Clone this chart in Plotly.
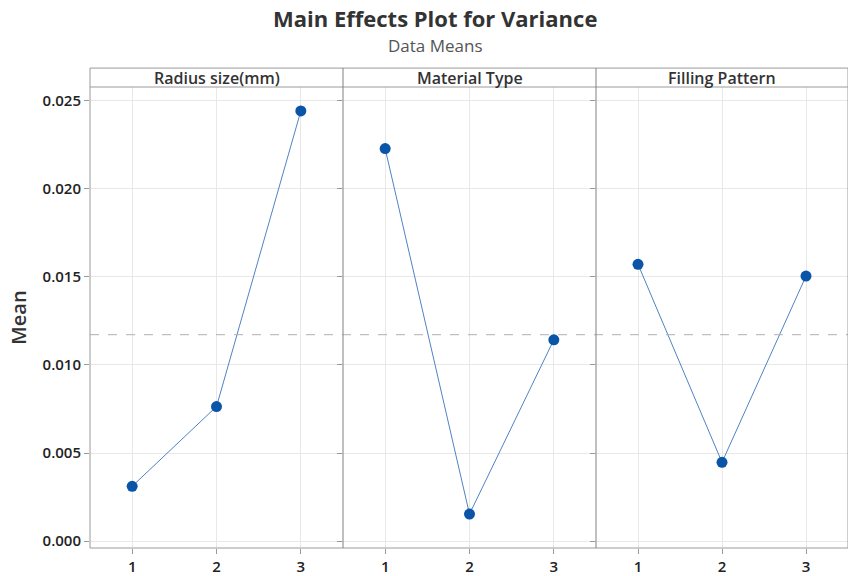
import plotly.graph_objects as go
from plotly.subplots import make_subplots

levels = [1, 2, 3]
factors = ["Radius size(mm)", "Material Type", "Filling Pattern"]
radius_means = [0.00311, 0.00764, 0.02443]
material_means = [0.02229, 0.00153, 0.01143]
filling_means = [0.01572, 0.00447, 0.01505]
grand_mean = 0.01172
y_ticks = [0.000, 0.005, 0.010, 0.015, 0.020, 0.025]

series = [radius_means, material_means, filling_means]

W, H = 848, 576
ml, mr, mt, mb = 90, 0, 87, 26
pw = W - ml - mr
ph = H - mt - mb

fig = make_subplots(rows=1, cols=3, shared_yaxes=True, horizontal_spacing=0)

b1 = 253 / pw
b2 = 506 / pw
domains = [[0, b1], [b1, b2], [b2, 1]]

font_family = "Open Sans, Noto Sans, sans-serif"
tick_font = dict(family=font_family, size=15, color="#222222", weight=600)
for i, vals in enumerate(series):
    fig.add_trace(go.Scatter(
        x=levels, y=vals, mode="lines+markers",
        line=dict(color="#4f83c4", width=1),
        marker=dict(color="#0a55a8", size=11),
        showlegend=False, hoverinfo="x+y"),
        row=1, col=i + 1)
    ax = "xaxis" if i == 0 else f"xaxis{i+1}"
    fig.layout[ax].update(
        domain=domains[i], range=[0.5, 3.5], tickvals=levels,
        ticks="outside", ticklen=5, tickcolor="#999999",
        showgrid=True, gridcolor="#e8e8e8", gridwidth=1,
        zeroline=False, showline=False,
        tickfont=tick_font, fixedrange=True)

fig.update_yaxes(
    range=[-0.000396, 0.02579], tickvals=y_ticks, tickformat=".3f",
    ticks="outside", ticklen=5, tickcolor="#999999",
    showgrid=True, gridcolor="#e8e8e8", zeroline=False, showline=False,
    tickfont=tick_font, fixedrange=True)
fig.update_yaxes(title=dict(text="Mean", font=dict(family=font_family, size=20, color="#333333", weight=600),
                            standoff=10),
                 row=1, col=1)

hdr = 1 + 19 / ph
shapes = []
frame_col = "#9a9a9a"
shapes.append(dict(type="line", xref="paper", yref="y", x0=0, x1=1,
                   y0=grand_mean, y1=grand_mean,
                   line=dict(color="#b0b0b0", width=1, dash="dash")))
shapes.append(dict(type="rect", xref="paper", yref="paper", x0=0, x1=1, y0=0, y1=hdr,
                   line=dict(color=frame_col, width=1)))
shapes.append(dict(type="line", xref="paper", yref="paper", x0=0, x1=1, y0=1, y1=1,
                   line=dict(color=frame_col, width=1)))
for b in [b1, b2]:
    shapes.append(dict(type="line", xref="paper", yref="paper", x0=b, x1=b, y0=0, y1=hdr,
                       line=dict(color="#808080", width=1)))

annotations = []
for i, name in enumerate(factors):
    cx = (domains[i][0] + domains[i][1]) / 2
    annotations.append(dict(text=name, xref="paper", yref="paper", x=cx, y=1 + 9.5 / ph,
                            showarrow=False, xanchor="center", yanchor="middle",
                            font=dict(family=font_family, size=16, color="#333333", weight=600)))
annotations.append(dict(text="Main Effects Plot for Variance", xref="paper", yref="paper",
                        x=(435 - ml) / pw, y=1 + (mt - 18) / ph, showarrow=False,
                        xanchor="center", yanchor="middle",
                        font=dict(family=font_family, size=22, color="#333333", weight="bold")))
annotations.append(dict(text="Data Means", xref="paper", yref="paper",
                        x=(435 - ml) / pw, y=1 + (mt - 45) / ph, showarrow=False,
                        xanchor="center", yanchor="middle",
                        font=dict(family=font_family, size=17, color="#555555")))

fig.update_layout(
    width=W, height=H,
    margin=dict(l=ml, r=mr, t=mt, b=mb),
    paper_bgcolor="white", plot_bgcolor="white",
    shapes=shapes, annotations=annotations,
)

fig.write_html("out.html", config={"displayModeBar": False},
               post_script="document.body.style.margin='0';document.body.style.overflow='hidden';")
